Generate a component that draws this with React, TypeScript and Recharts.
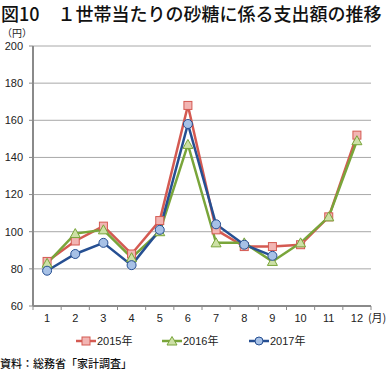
import React from 'react';
import { LineChart, Line, XAxis, YAxis, CartesianGrid } from 'recharts';

const months = ['1', '2', '3', '4', '5', '6', '7', '8', '9', '10', '11', '12'];
const yen2015 = [84, 95, 103, 88, 106, 168, 101, 92, 92, 93, 108, 152];
const yen2016 = [83, 99, 101, 86, 100, 147, 94, 94, 84, 94, 108, 149];
const yen2017 = [79, 88, 94, 82, 101, 158, 104, 93, 87, null, null, null];
const yTicks = [60, 80, 100, 120, 140, 160, 180, 200];

const data = months.map((m, i) => ({
  month: m,
  y2015: yen2015[i],
  y2016: yen2016[i],
  y2017: yen2017[i],
}));

const RED = '#d45a52';
const RED_FILL = '#f2b5b3';
const GREEN = '#79a53a';
const GREEN_FILL = '#cde0a6';
const BLUE = '#264f92';
const BLUE_FILL = '#a7c1e6';
const AXIS = '#8a8a8a';
const JP = "'Noto Sans CJK JP', sans-serif";
const NUM = "'Liberation Sans', 'Noto Sans CJK JP', sans-serif";

const STEP = 338 / 12;

const squareDot = (p: any) => {
  if (p.cx == null || p.cy == null || p.value == null) return <g key={`s${p.index}`} />;
  return <rect key={`s${p.index}`} x={p.cx - 4} y={p.cy - 4} width={8} height={8} fill={RED_FILL} stroke={RED} strokeWidth={1} />;
};
const triDot = (p: any) => {
  if (p.cx == null || p.cy == null || p.value == null) return <g key={`t${p.index}`} />;
  const { cx, cy } = p;
  return <polygon key={`t${p.index}`} points={`${cx},${cy - 5} ${cx + 5},${cy + 4} ${cx - 5},${cy + 4}`} fill={GREEN_FILL} stroke={GREEN} strokeWidth={1} />;
};
const circleDot = (p: any) => {
  if (p.cx == null || p.cy == null || p.value == null) return <g key={`c${p.index}`} />;
  return <circle key={`c${p.index}`} cx={p.cx} cy={p.cy} r={4.5} fill={BLUE_FILL} stroke={BLUE} strokeWidth={1} />;
};

const MonthTick = (props: any) => {
  const { x, y, payload, index } = props;
  const last = index === months.length - 1;
  return (
    <g>
      <line x1={x - STEP / 2} y1={y} x2={x - STEP / 2} y2={y + 4} stroke={AXIS} strokeWidth={1} />
      {last && <line x1={x + STEP / 2} y1={y} x2={x + STEP / 2} y2={y + 4} stroke={AXIS} strokeWidth={1} />}
      <text x={x} y={y + 16} textAnchor="middle" fontSize={11} fill="#222" fontFamily={NUM}>
        {payload.value}
      </text>
      {last && (
        <text x={x + 11} y={y + 16} textAnchor="start" fontSize={11} fill="#222" fontFamily={JP}>
          (月)
        </text>
      )}
    </g>
  );
};

const LegendIcon = ({ color, kind, fill }: { color: string; kind: string; fill: string }) => (
  <svg width={20} height={10} style={{ display: 'block' }}>
    <line x1={0} y1={5} x2={20} y2={5} stroke={color} strokeWidth={2.5} />
    {kind === 'square' && <rect x={6} y={1} width={8} height={8} fill={fill} stroke={color} />}
    {kind === 'tri' && <polygon points="10,0.5 15,9 5,9" fill={fill} stroke={color} />}
    {kind === 'circle' && <circle cx={10} cy={5} r={4} fill={fill} stroke={color} />}
  </svg>
);

const legendItems = [
  { label: '2015年', color: RED, fill: RED_FILL, kind: 'square', left: 76 },
  { label: '2016年', color: GREEN, fill: GREEN_FILL, kind: 'tri', left: 162 },
  { label: '2017年', color: BLUE, fill: BLUE_FILL, kind: 'circle', left: 249 },
];

export default function App() {
  return (
    <div style={{ position: 'absolute', left: 0, top: 0, width: 389, height: 378, background: '#fff', overflow: 'hidden' }}>
      <div style={{ position: 'absolute', left: 1, top: 2, fontSize: 18, lineHeight: '22px', fontFamily: JP, fontWeight: 500, color: '#111', whiteSpace: 'nowrap' }}>
        図10　１世帯当たりの砂糖に係る支出額の推移
      </div>
      <div style={{ position: 'absolute', left: 2, top: 26, fontSize: 10, lineHeight: '14px', fontFamily: JP, color: '#222' }}>（円）</div>
      <LineChart width={389} height={378} data={data} margin={{ top: 46, right: 18, bottom: 52, left: 0 }}>
        <CartesianGrid vertical={false} stroke="#a8a8a8" strokeWidth={1} />
        <XAxis
          dataKey="month"
          height={20}
          padding={{ left: STEP / 2, right: STEP / 2 }}
          axisLine={{ stroke: AXIS, strokeWidth: 2 }}
          tickLine={false}
          tickSize={0}
          tickMargin={0}
          interval={0}
          tick={<MonthTick />}
        />
        <YAxis
          width={33}
          domain={[60, 200]}
          ticks={yTicks}
          interval={0}
          axisLine={{ stroke: AXIS, strokeWidth: 2 }}
          tickLine={{ stroke: AXIS }}
          tickSize={4}
          tickMargin={6}
          tick={{ fontSize: 11, fill: '#222', fontFamily: NUM }}
        />
        <Line dataKey="y2015" stroke={RED} strokeWidth={2.5} dot={squareDot} activeDot={false} isAnimationActive={false} />
        <Line dataKey="y2016" stroke={GREEN} strokeWidth={2.5} dot={triDot} activeDot={false} isAnimationActive={false} />
        <Line dataKey="y2017" stroke={BLUE} strokeWidth={2.5} dot={circleDot} activeDot={false} isAnimationActive={false} />
      </LineChart>
      {legendItems.map((it) => (
        <div key={it.label} style={{ position: 'absolute', left: it.left, top: 334, display: 'flex', alignItems: 'center', height: 14 }}>
          <LegendIcon color={it.color} kind={it.kind} fill={it.fill} />
          <span style={{ marginLeft: 1, fontSize: 11, fontFamily: NUM, color: '#222', lineHeight: '14px' }}>{it.label}</span>
        </div>
      ))}
      <div style={{ position: 'absolute', left: 0, top: 355, fontSize: 11, lineHeight: '16px', fontFamily: JP, fontWeight: 500, color: '#111', whiteSpace: 'nowrap' }}>
        資料：総務省「家計調査」
      </div>
    </div>
  );
}
